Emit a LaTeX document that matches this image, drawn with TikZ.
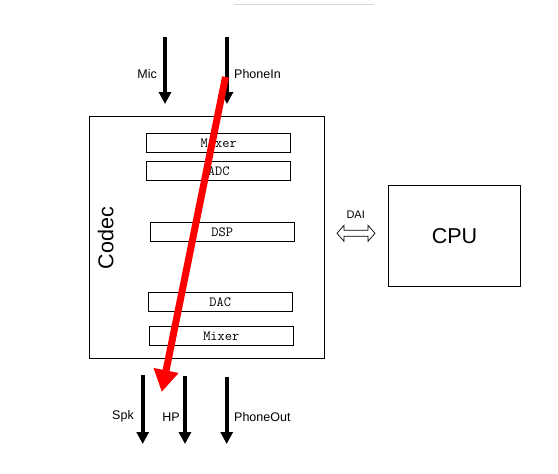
\documentclass[tikz,border=0pt]{standalone}
\usepackage{fontspec}
\setmainfont{Liberation Sans}
\usetikzlibrary{arrows.meta}
\begin{document}
\begin{tikzpicture}[x=1pt,y=-1pt,
  blk/.style={draw,line width=0.6pt,minimum width=144pt,minimum height=18.6pt,inner sep=0pt,font=\ttfamily\fontsize{14}{14}\selectfont},
  sig/.style={line width=3.6pt,-{Triangle[width=12pt,length=12pt]}},
  lbl/.style={font=\fontsize{12.5}{14}\selectfont,inner sep=0pt}]
\useasboundingbox (0,0) rectangle (558,474);
\fill[white] (0,0) rectangle (558,474);
\draw[black!15,line width=1pt] (234,4) -- (374,4);
% codec
\node[draw,line width=0.7pt,minimum width=235pt,minimum height=242pt,inner sep=0pt] (codec) at (206.8,237.3) {};
\node[rotate=90,font=\fontsize{21.5}{24}\selectfont] (codeclbl) at (105.7,238.3) {Codec};
\node[blk] (mix1) at (218.7,142.8) {Mixer};
\node[blk] (adc) at (218.7,171) {ADC};
\node[blk] (dsp) at (222.3,231.9) {DSP};
\node[blk] (dac) at (220.3,302) {DAC};
\node[blk] (mix2) at (221.3,336) {Mixer};
% cpu
\node[draw,line width=0.7pt,minimum width=132.4pt,minimum height=100.3pt,inner sep=0pt,font=\fontsize{21.5}{24}\selectfont] (cpu) at (454.5,235.8) {CPU};
% DAI
\node[lbl,font=\fontsize{11}{13}\selectfont] (dailbl) at (355.7,215) {DAI};
\coordinate (dai) at (356,233.3);
\draw[line width=0.7pt] ([xshift=-19pt]dai) -- ++(7,-8) -- ++(0,5) -- ++(24,0) -- ++(0,-5) -- ++(7,8) -- ++(-7,8) -- ++(0,-5) -- ++(-24,0) -- ++(0,5) -- cycle;
% inputs
\coordinate (micS) at (165,37);
\coordinate (micE) at (165,104);
\coordinate (pinS) at (227,37);
\coordinate (pinE) at (227,104);
\draw[sig] (micS) -- (micE);
\draw[sig] (pinS) -- (pinE);
\node[lbl,anchor=east] (mic) at (157,74) {Mic};
\node[lbl,anchor=west] (pin) at (234,74) {PhoneIn};
% outputs
\coordinate (spkS) at (142.7,375);
\coordinate (spkE) at (142.7,444);
\coordinate (hpS) at (185,376);
\coordinate (hpE) at (185,444);
\coordinate (poS) at (226.7,377);
\coordinate (poE) at (226.7,444);
\draw[sig] (spkS) -- (spkE);
\draw[sig] (hpS) -- (hpE);
\draw[sig] (poS) -- (poE);
\node[lbl] (spk) at (123,416.7) {Spk};
\node[lbl] (hp) at (171,416.7) {HP};
\node[lbl,anchor=west] (po) at (234,416.7) {PhoneOut};
% red path
\coordinate (rS) at (225.5,77);
\coordinate (rE) at (161.7,392);
\draw[red,line width=7pt,-{Triangle[width=24pt,length=22pt]}] (rS) -- (rE);
\end{tikzpicture}
\end{document}
